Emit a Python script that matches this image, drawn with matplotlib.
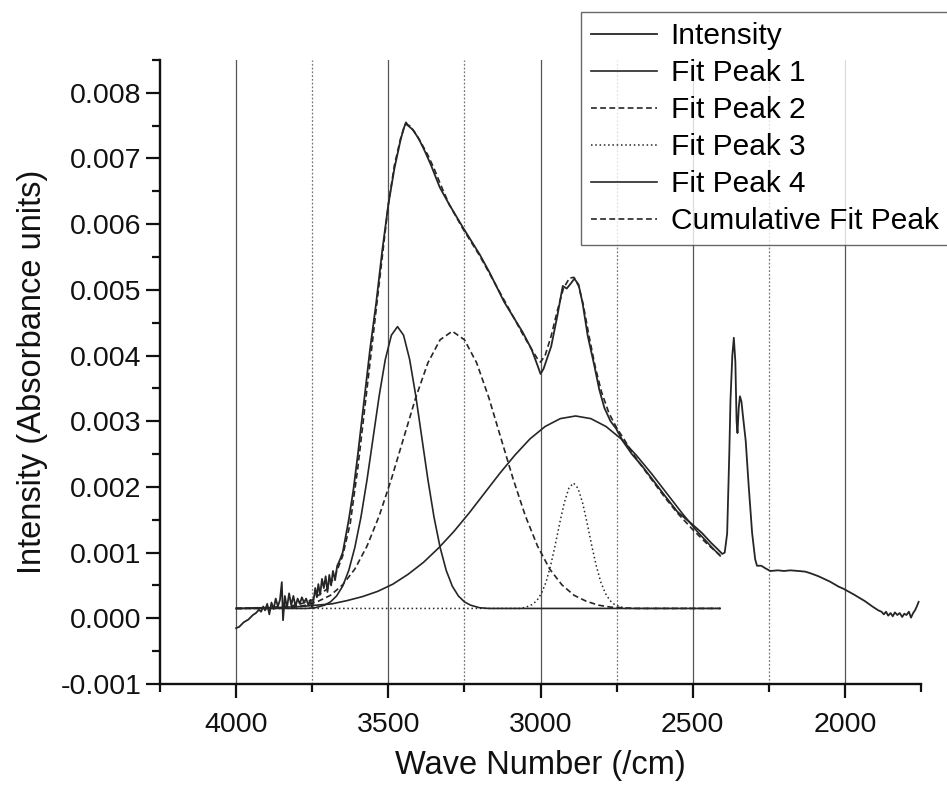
import matplotlib
matplotlib.use('Agg')
import matplotlib.pyplot as plt
import matplotlib.ticker as ticker

plt.rcParams['font.family'] = ['Liberation Sans', 'DejaVu Sans']
plt.rcParams['axes.unicode_minus'] = False

# measured spectrum (wave number /cm, absorbance)
intensity_x = [4000, 3990, 3975, 3960, 3945, 3935, 3925, 3918, 3911, 3905, 3898, 3891,
               3884, 3877, 3870, 3863, 3856, 3850, 3846, 3840, 3833, 3826, 3819, 3812,
               3805, 3798, 3791, 3784, 3777, 3770, 3763, 3756, 3750, 3745, 3740, 3735,
               3730, 3724, 3718, 3712, 3706, 3700, 3694, 3688, 3682, 3675, 3668, 3660,
               3650, 3640, 3630, 3615, 3600, 3580, 3560, 3540, 3520, 3500, 3480, 3460,
               3450, 3442, 3435, 3420, 3400, 3380, 3360, 3331, 3300, 3255, 3200, 3167,
               3120, 3058, 3030, 3010, 3000, 2990, 2965, 2945, 2927, 2914, 2900, 2889,
               2875, 2862, 2845, 2823, 2807, 2790, 2770, 2752, 2730, 2700, 2665, 2630,
               2589, 2550, 2504, 2470, 2440, 2420, 2403, 2395, 2387, 2380, 2376, 2370,
               2365, 2360, 2356, 2353, 2349, 2345, 2340, 2336, 2326, 2316, 2305, 2295,
               2289, 2275, 2261, 2245, 2220, 2200, 2180, 2152, 2130, 2110, 2087, 2050,
               2020, 2005, 1970, 1934, 1910, 1890, 1880, 1872, 1865, 1858, 1850, 1843,
               1836, 1828, 1820, 1812, 1805, 1798, 1790, 1783, 1776, 1770, 1764, 1758]
intensity_y = [-0.00015, -0.00013, -0.00006, -0.00002, 0.00005, 0.00008, 0.00013, 0.00010,
               0.00018, 0.00012, 0.00022, 0.00006, 0.00024, 0.00014, 0.00030, 0.00018,
               0.00028, 0.00055, -0.00003, 0.00034, 0.00016, 0.00038, 0.00020, 0.00034,
               0.00018, 0.00030, 0.00022, 0.00032, 0.00024, 0.00030, 0.00020, 0.00028,
               0.00016, 0.00030, 0.00046, 0.00032, 0.00052, 0.00036, 0.00060, 0.00046,
               0.00064, 0.00040, 0.00066, 0.00050, 0.00072, 0.00058, 0.00080, 0.00088,
               0.00100, 0.00125, 0.00150, 0.00195, 0.00250, 0.00330, 0.00410, 0.00480,
               0.00560, 0.00630, 0.00685, 0.00728, 0.00745, 0.00755, 0.00750, 0.00744,
               0.00730, 0.00711, 0.00690, 0.00656, 0.00630, 0.00595, 0.00554, 0.00526,
               0.00482, 0.00435, 0.00410, 0.00385, 0.00372, 0.00380, 0.00414, 0.00460,
               0.00506, 0.00502, 0.00510, 0.00517, 0.00508, 0.00480, 0.00430, 0.00384,
               0.00348, 0.00320, 0.00300, 0.00289, 0.00270, 0.00250, 0.00231, 0.00210,
               0.00185, 0.00162, 0.00144, 0.00130, 0.00115, 0.00106, 0.00098, 0.00100,
               0.00129, 0.00250, 0.00333, 0.00400, 0.00427, 0.00390, 0.00300, 0.00282,
               0.00320, 0.00338, 0.00330, 0.00312, 0.00270, 0.00200, 0.00130, 0.00090,
               0.00080, 0.00080, 0.00076, 0.00072, 0.00073, 0.00072, 0.00073, 0.00072,
               0.00071, 0.00068, 0.00064, 0.00056, 0.00048, 0.00045, 0.00036, 0.00026,
               0.00018, 0.00012, 0.00010, 0.00006, 0.00010, 0.00004, 0.00008, 0.00003,
               0.00009, 0.00005, 0.00008, 0.00002, 0.00007, 0.00005, 0.00010, 0.00001,
               0.00008, 0.00012, 0.00018, 0.00025]

# fit peaks
peak1_x = [4000, 3770, 3740, 3710, 3690, 3670, 3650, 3630, 3610, 3590, 3570, 3550, 3530,
           3510, 3490, 3470, 3450, 3430, 3410, 3390, 3370, 3350, 3330, 3310, 3290, 3270,
           3250, 3230, 3200, 3170, 2410]
peak1_y = [0.00015, 0.00015, 0.00016, 0.00020, 0.00025, 0.00034, 0.00049, 0.00073, 0.00108,
           0.00154, 0.00211, 0.00275, 0.00339, 0.00394, 0.00431, 0.00444, 0.00431, 0.00394,
           0.00339, 0.00275, 0.00211, 0.00154, 0.00108, 0.00073, 0.00049, 0.00034, 0.00025,
           0.00020, 0.00016, 0.00015, 0.00015]

peak2_x = [4000, 3890, 3850, 3810, 3770, 3730, 3690, 3650, 3610, 3570, 3530, 3490, 3450,
           3410, 3370, 3330, 3290, 3250, 3210, 3170, 3130, 3090, 3050, 3010, 2970, 2930,
           2890, 2850, 2810, 2770, 2730, 2690, 2410]
peak2_y = [0.00015, 0.00015, 0.00016, 0.00017, 0.00020, 0.00026, 0.00035, 0.00051, 0.00075,
           0.00110, 0.00156, 0.00212, 0.00274, 0.00336, 0.00389, 0.00424, 0.00437, 0.00424,
           0.00389, 0.00336, 0.00274, 0.00212, 0.00156, 0.00110, 0.00075, 0.00051, 0.00035,
           0.00026, 0.00020, 0.00017, 0.00016, 0.00015, 0.00015]

peak3_x = [4000, 3062, 3057, 3042, 3027, 3012, 2997, 2982, 2967, 2952, 2937, 2922, 2907,
           2892, 2877, 2862, 2847, 2832, 2817, 2802, 2787, 2772, 2757, 2742, 2727, 2722, 2410]
peak3_y = [0.00015, 0.00015, 0.00016, 0.00018, 0.00021, 0.00027, 0.00038, 0.00055, 0.00080,
           0.00111, 0.00145, 0.00176, 0.00198, 0.00206, 0.00198, 0.00176, 0.00145, 0.00111,
           0.00080, 0.00055, 0.00038, 0.00027, 0.00021, 0.00018, 0.00016, 0.00015, 0.00015]

peak4_x = [4000, 3985, 3935, 3885, 3835, 3785, 3735, 3685, 3635, 3585, 3535, 3485, 3435,
           3385, 3335, 3285, 3235, 3185, 3135, 3085, 3035, 2985, 2935, 2885, 2835, 2785,
           2735, 2685, 2635, 2585, 2535, 2485, 2435, 2410]
peak4_y = [0.00015, 0.00015, 0.00016, 0.00016, 0.00017, 0.00018, 0.00020, 0.00022, 0.00027,
           0.00033, 0.00041, 0.00052, 0.00067, 0.00085, 0.00107, 0.00132, 0.00160, 0.00190,
           0.00220, 0.00248, 0.00273, 0.00292, 0.00304, 0.00308, 0.00304, 0.00292, 0.00273,
           0.00248, 0.00220, 0.00190, 0.00160, 0.00132, 0.00107, 0.00095]

cumul_x = [4000, 3900, 3850, 3800, 3750, 3700, 3675, 3650, 3625, 3600, 3580, 3560, 3540,
           3520, 3500, 3480, 3460, 3445, 3430, 3410, 3390, 3370, 3350, 3330, 3300, 3255,
           3200, 3150, 3100, 3058, 3030, 3010, 3000, 2985, 2965, 2945, 2925, 2905, 2890,
           2875, 2860, 2840, 2820, 2800, 2775, 2750, 2725, 2700, 2665, 2630, 2590, 2550,
           2500, 2450, 2410]
cumul_y = [0.00015, 0.00016, 0.00018, 0.00020, 0.00028, 0.00045, 0.00065, 0.00095, 0.00145,
           0.00230, 0.00310, 0.00390, 0.00470, 0.00550, 0.00630, 0.00690, 0.00730, 0.00752,
           0.00750, 0.00738, 0.00722, 0.00705, 0.00685, 0.00662, 0.00630, 0.00593, 0.00552,
           0.00510, 0.00468, 0.00432, 0.00410, 0.00395, 0.00390, 0.00400, 0.00430, 0.00468,
           0.00502, 0.00518, 0.00519, 0.00506, 0.00478, 0.00428, 0.00382, 0.00345, 0.00312,
           0.00290, 0.00272, 0.00253, 0.00230, 0.00208, 0.00183, 0.00160, 0.00135, 0.00112,
           0.00096]

labels = ['Intensity', 'Fit Peak 1', 'Fit Peak 2', 'Fit Peak 3', 'Fit Peak 4',
          'Cumulative Fit Peak']

fig = plt.figure(figsize=(9.47, 7.85), dpi=100)
ax = fig.add_axes([0.169, 0.1287, 0.8036, 0.7949])

line_col = '#262626'
dashed = (0, (3.5, 2))
dotted = (0, (1, 1.8))

# vertical grid: solid at majors, dotted at minors
for gx in [4000, 3500, 3000, 2500, 2000]:
    ax.axvline(gx, color='#555555', lw=0.9, zorder=1)
for gx in [3750, 3250, 2750, 2250]:
    ax.axvline(gx, color='#777777', lw=0.9, ls=(0, (1.5, 1.5)), zorder=1)

h1, = ax.plot(intensity_x, intensity_y, color=line_col, lw=1.3, zorder=3)
h2, = ax.plot(peak1_x, peak1_y, color=line_col, lw=1.2, zorder=2)
h3, = ax.plot(peak2_x, peak2_y, color=line_col, lw=1.2, ls=dashed, zorder=2)
h4, = ax.plot(peak3_x, peak3_y, color=line_col, lw=1.1, ls=dotted, zorder=2)
h5, = ax.plot(peak4_x, peak4_y, color=line_col, lw=1.2, zorder=2)
h6, = ax.plot(cumul_x, cumul_y, color=line_col, lw=1.2, ls=dashed, zorder=2)

ax.set_xlim(4250, 1750)
ax.set_ylim(-0.001, 0.0085)

ax.xaxis.set_major_locator(ticker.FixedLocator([4000, 3500, 3000, 2500, 2000]))
ax.xaxis.set_minor_locator(ticker.FixedLocator([4250, 3750, 3250, 2750, 2250, 1750]))
ax.yaxis.set_major_locator(ticker.MultipleLocator(0.001))
ax.yaxis.set_minor_locator(ticker.MultipleLocator(0.0005))
ax.yaxis.set_major_formatter(ticker.StrMethodFormatter('{x:.3f}'))

for side in ['top', 'right']:
    ax.spines[side].set_visible(False)
for side in ['left', 'bottom']:
    ax.spines[side].set_linewidth(1.7)
    ax.spines[side].set_color('#111111')

ax.tick_params(which='major', direction='out', length=10, width=1.6, labelsize=20.5,
               colors='#111111', pad=3.5)
ax.tick_params(axis='x', which='major', pad=10)
ax.tick_params(which='minor', direction='out', length=5.5, width=1.6, colors='#111111')

ax.set_xlabel('Wave Number (/cm)', fontsize=23.5, labelpad=9, color='#111111')
ax.set_ylabel('Intensity (Absorbance units)', fontsize=23.5, labelpad=9, color='#111111')

leg = fig.legend([h1, h2, h3, h4, h5, h6], labels, loc='upper left',
                 bbox_to_anchor=(0.6135, 0.985), fontsize=21.5, frameon=True,
                 fancybox=False, handlelength=2.2, handletextpad=0.45,
                 labelspacing=0.3, borderpad=0.35, borderaxespad=0)
leg.get_frame().set_edgecolor('#444444')
leg.get_frame().set_linewidth(1.0)

fig.savefig('out.png', dpi=100)
